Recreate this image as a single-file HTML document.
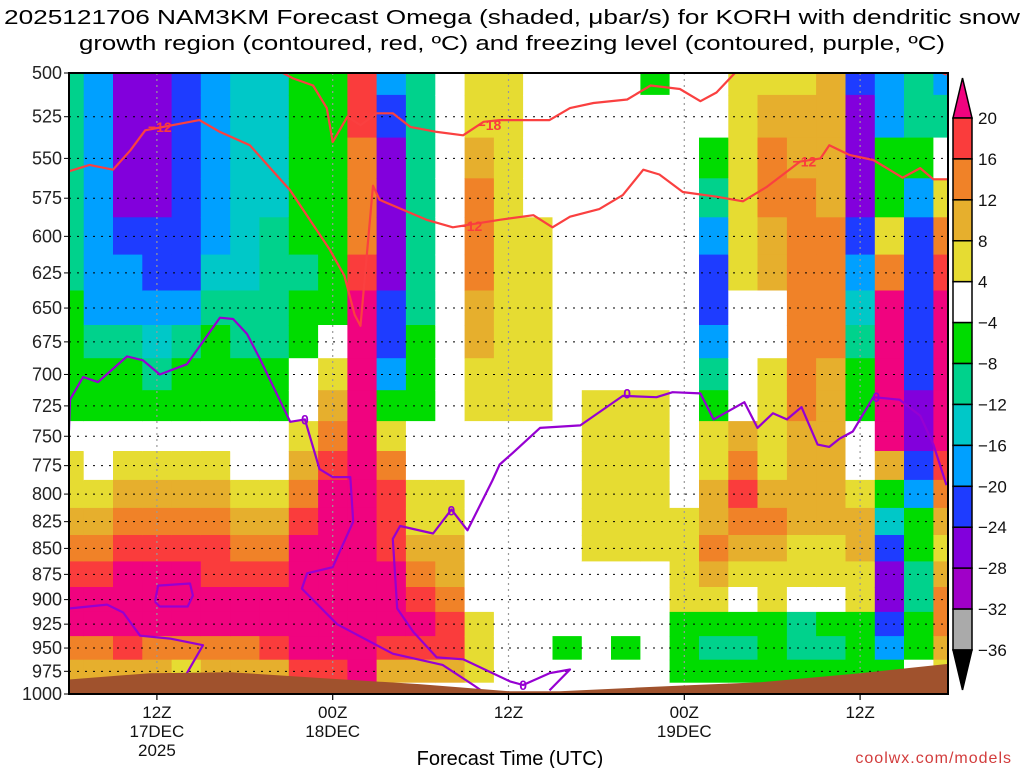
<!DOCTYPE html>
<html><head><meta charset="utf-8"><style>
html,body{margin:0;padding:0;background:#fff;}
svg{display:block;font-family:"Liberation Sans",sans-serif;}
</style></head><body>
<svg id="chart" width="1024" height="768" viewBox="0 0 1024 768" xmlns="http://www.w3.org/2000/svg">
<defs><clipPath id="plotclip"><rect x="69" y="73" width="879" height="621"/></clipPath></defs>
<text x="512" y="24" font-size="20" text-anchor="middle" textLength="1016" lengthAdjust="spacingAndGlyphs">2025121706 NAM3KM Forecast Omega (shaded, μbar/s) for KORH with dendritic snow</text>
<text x="512" y="50" font-size="20" text-anchor="middle" textLength="866" lengthAdjust="spacingAndGlyphs">growth region (contoured, red, ºC) and freezing level (contoured, purple, ºC)</text>
<g id="field" clip-path="url(#plotclip)"></g>
<g id="grid"></g>
<g id="contours" clip-path="url(#plotclip)"></g>
<g id="ground" clip-path="url(#plotclip)"></g>
<g id="labels"></g>
<rect x="69" y="73" width="879" height="621" fill="none" stroke="#000" stroke-width="2"/>
<g id="yaxis"></g>
<g id="xaxis"></g>
<g id="cbar"></g>
<text x="510" y="765" font-size="20" text-anchor="middle">Forecast Time (UTC)</text>
<text x="1012" y="763" font-size="16" text-anchor="end" fill="#d23c3c" letter-spacing="1">coolwx.com/models</text>
</svg>
<script>
const levels=[500,525,550,575,600,625,650,675,700,725,750,775,800,825,850,875,900,925,950,975,1000];
const hours=[0,2,4,6,8,10,12,14,16,18,20,22,24,26,28,30,32,34,36,38,40,42,44,46,48,50,52,54,56,58,60];
const omegaColumns=[
"TTTTTTGGGGWYYDORPPODW","LLLLLLLTGGWWYDORPPODW","UUUUBLLTGGWYDORPPPRDW","UUUUBBLCTGWYDORPPPODW",
"BBBBBBLTGGWYDORPPPOYW","LLLLLCTGGGWYDORRPPODW","CCCCCCTTGGWWYDORPPODW","CCCCTTTTGGWWYDORPPRDW",
"GGGGGTGGWWYDORPPPPPRW","GGGGGGGWYDORPPPPPPPRW","RROOORPPPPPPPPPPPPPPW","LBUUUUBBLGYORRRPPPRDW",
"TTTTTTTGGGWWYYDORPRDW","WWWWWWWWWWWWYYDDORRDW","YYDOOODDYYWWWWWWWYYYW","YYYYYYYYYYWWWWWWWWWWW",
"WWWWYYYYYYWWWWWWWWWWW","WWWWWWWWWWWWWWWWWWGWW","WWWWWWWWWYYYYYYWWWWWW","WWWWWWWWWYYYYYYWWWGWW",
"GWWWWWWWWYYYYYYWWWWWW","WWWWWWWWWWWWWYYYYGGGW","WWGTLBBLTGYYDDODYGTGW","YYYYYYWWWWDORODYWGTGW",
"YDOODDWWYYYYDODYYGGGW","YDDOOOOOOODDDDYYWTTGW","DDDDOOOODDDDDDYYWGTGW","BUUUBLCTGGWWYDDYYGGGW",
"LLGGYOPPPPPDGCBUUBLGW","TTGLBBBBBUUBLGGTTGGWW","LTWYORPPPPPRODYDOODYW"];
const cbarLabels=["20","16","12","8","4","\u22124","\u22128","\u221212","\u221216","\u221220","\u221224","\u221228","\u221232","\u221236"];
const tickLevels=[500,525,550,575,600,625,650,675,700,725,750,775,800,825,850,875,900,925,950,975,1000];
const xTickHours=[6,18,30,42,54];
const xTickLine1=["12Z","00Z","12Z","00Z","12Z"];
const xTickLine2=["17DEC","18DEC","","19DEC",""];
const xTickLine3=["2025","","","",""];
const isoM12=[[0,558],[1.4,554],[3.0,557],[4.2,545],[5.2,533],[8.9,527],[10.3,534],[12.35,542],[15.1,570],[17.8,609],[18.8,627],[19.5,655],[19.9,663],[20.75,567],[21.2,576],[24.4,589],[26.2,594],[29.4,589],[31.7,586],[33.0,594],[34.2,587],[36.2,582],[37.8,573],[39.2,557],[40.3,560],[41.9,571],[44.2,574],[46.0,577],[47.6,568],[49.9,552],[51.3,550],[51.9,542],[53.3,548],[54.9,551],[56.9,562],[58.1,556],[59.0,563],[60,563]];
const isoM18=[[13.9,497],[15.3,503],[16.66,507],[17.6,520],[18.0,540],[19.0,525],[19.9,530],[21.0,523],[22.1,523],[23.3,531],[25.1,534],[26.9,536],[28.3,528],[29.4,527],[32.8,527],[34.2,520],[35.8,517],[38.1,515],[39.7,507],[41.7,509],[43.1,516],[44.2,511],[45.8,497]];
const isoM18b=[[58.8,497],[59.9,501]];
const iso0a=[[0,745],[0.07,720],[0.96,702],[1.98,706],[3.96,686],[5.05,689],[6.2,700],[8.05,692],[10.3,657],[11.2,658],[12.15,669],[13.04,688],[15.1,738],[16.1,736],[17.1,778],[18.0,785],[19.2,785],[19.4,825],[18.0,868],[16.25,874],[15.9,889],[18.3,925],[22.1,956],[25.5,968],[27.6,990],[28.5,1000]];
const iso0b=[[59.9,792],[59.0,757],[58.1,733],[56.7,720],[54.9,718],[53.5,746],[52.6,752],[51.9,759],[51.1,757],[50.0,726],[49.0,736],[48.05,731],[47.0,743],[46.1,722],[44.0,736],[43.1,715],[41.2,714],[40.1,718],[37.8,717],[34.9,741],[32.15,743],[30.3,764],[29.4,774],[28.9,788],[27.2,833],[26.1,814],[24.85,836],[22.6,829],[22.1,841],[22.4,909],[23.5,933],[25.1,960],[26.9,962],[30.1,986],[31.0,990],[32.8,977],[34.2,973],[32.8,996]];
const iso0loop=[[5.87,902],[6.08,886],[8.26,884],[8.46,896],[8.1,907],[6.2,907],[5.87,902]];
const iso0c=[[0,909],[2.6,905],[3.7,913],[4.85,937],[6.9,940],[9.15,947],[8.05,977],[7.6,998]];
const labelText=["\u221212","\u221218","\u221212","\u221212","0","0","0","0","0"];
const labelHour=[6.2,28.7,27.4,50.2,16.1,26.1,31.0,38.1,55.1];
const labelPres=[531,530,593,552,736,815,990,715,718];
const labelRed=[1,1,1,1,0,0,0,0,0];
const groundHour=[0,5.5,11.0,17.8,23.9,30.1,33.5,38.6,42.7,47.2,54.0,60];
const groundPres=[984,977,976,983,989,997,997,993,990,987,977,967];

const palette={P:"#f0037f",R:"#fa3c3c",O:"#f08228",D:"#e6af2d",Y:"#e6dc32",W:"#ffffff",G:"#00dc00",T:"#00d28c",C:"#00c8c8",L:"#00a0ff",B:"#1e3cff",U:"#8200dc",M:"#a000c8",S:"#aaaaaa"};
const cbarColors=["#fa3c3c","#f08228","#e6af2d","#e6dc32","#ffffff","#00dc00","#00d28c","#00c8c8","#00a0ff","#1e3cff","#8200dc","#a000c8","#aaaaaa"];
const NS="http://www.w3.org/2000/svg";
const X0=69,X1=948,Y0=73,Y1=694;
function xs(h){return X0+(h-0)*(X1-X0)/60;}
function ys(p){return Y0+(Math.log(p/500))/Math.log(2)*(Y1-Y0);}
function mk(tag,attrs,parent){const e=document.createElementNS(NS,tag);for(const k in attrs)e.setAttribute(k,attrs[k]);parent.appendChild(e);return e;}

const field=document.getElementById('field');
const dh=hours[1]-hours[0];
hours.forEach((h,i)=>{
  const col=omegaColumns[i];
  levels.forEach((p,j)=>{
    const pTop=j===0?p:Math.sqrt(levels[j-1]*p);
    const pBot=j===levels.length-1?p:Math.sqrt(levels[j+1]*p);
    const y0=j===0?Y0-5:ys(pTop), y1=j===levels.length-1?Y1+5:ys(pBot);
    const xa=xs(h-dh/2), xb=xs(h+dh/2);
    const r=mk('rect',{x:xa.toFixed(1),y:y0.toFixed(1),width:(xb-xa+0.6).toFixed(1),height:(y1-y0+0.6).toFixed(1),fill:palette[col[j]]},field);
    
    
  });
});

const grid=document.getElementById('grid');
levels.forEach(p=>{
  const l=mk('line',{x1:X0,x2:X1,y1:ys(p),y2:ys(p),stroke:"#000","stroke-width":1,"stroke-dasharray":"2,6"},grid);
  
  
});
xTickHours.forEach(h=>{
  const l=mk('line',{x1:xs(h),x2:xs(h),y1:Y0,y2:Y1,stroke:"#999","stroke-width":1.2,"stroke-dasharray":"2,4"},grid);
  
  
});

const cont=document.getElementById('contours');
function line(pts,color,name){
  const d=pts.map((q,i)=>(i?'L':'M')+xs(q[0]).toFixed(1)+','+ys(q[1]).toFixed(1)).join(' ');
  const e=mk('path',{d:d,fill:"none",stroke:color,"stroke-width":2.2,"stroke-linejoin":"round"},cont);
  
  
}
line(isoM12,"#fa4040","isotherm-minus12");
line(isoM18,"#fa4040","isotherm-minus18");
line(isoM18b,"#fa4040","isotherm-minus18-right");
line(iso0a,"#9600d2","freezing-level-left");
line(iso0b,"#9600d2","freezing-level-right");
line(iso0loop,"#9600d2","freezing-level-loop");
line(iso0c,"#9600d2","freezing-level-lower");

const gnd=document.getElementById('ground');
let gd='M'+xs(groundHour[0])+','+(Y1+5);
groundHour.forEach((h,i)=>{gd+=' L'+xs(h).toFixed(1)+','+ys(groundPres[i]).toFixed(1);});
gd+=' L'+xs(60)+','+(Y1+5)+' Z';
const gp=mk('path',{d:gd,fill:"#a0522d"},gnd);



const lab=document.getElementById('labels');
labelText.forEach((t,i)=>{
  const e=mk('text',{x:xs(labelHour[i]),y:ys(labelPres[i])+5,"font-size":14,"font-weight":"bold","text-anchor":"middle",fill:labelRed[i]?"#fa3c3c":"#9600d2"},lab);
  e.textContent=t;
  
  
});

const ya=document.getElementById('yaxis');
tickLevels.forEach(p=>{
  const t=mk('text',{x:62,y:ys(p)+6,"font-size":18,"text-anchor":"end",fill:"#222"},ya);
  t.textContent=String(p);
  
  
  const k=mk('line',{x1:64,x2:69,y1:ys(p),y2:ys(p),stroke:"#000","stroke-width":1},ya);
  
  
});
const xa=document.getElementById('xaxis');
xTickHours.forEach((h,i)=>{
  const k=mk('line',{x1:xs(h),x2:xs(h),y1:Y1,y2:Y1+6,stroke:"#000","stroke-width":1.2},xa);
  
  
  [xTickLine1[i],xTickLine2[i],xTickLine3[i]].forEach((s,r)=>{
    if(!s)return;
    const t=mk('text',{x:xs(h),y:718+r*19,"font-size":17,"text-anchor":"middle",fill:"#111"},xa);
    t.textContent=s;
    
    
  });
});

const cb=document.getElementById('cbar');
const cx=953,cw=19,cTop=118,cStep=(650-118)/13;
const tri1=mk('polygon',{points:`${cx},${cTop} ${cx+cw},${cTop} ${cx+cw/2},78`,fill:"#f0037f",stroke:"#000","stroke-width":1.5},cb);


cbarColors.forEach((c,i)=>{
  const r=mk('rect',{x:cx,y:cTop+i*cStep,width:cw,height:cStep,fill:c,stroke:"#000","stroke-width":1.5},cb);
  
  
});
const tri2=mk('polygon',{points:`${cx},650 ${cx+cw},650 ${cx+cw/2},690`,fill:"#000",stroke:"#000","stroke-width":1.5},cb);


cbarLabels.forEach((s,i)=>{
  const t=mk('text',{x:978,y:cTop+i*cStep+6,"font-size":17,fill:"#111"},cb);
  t.textContent=s;
  
  
});
</script>
</body></html>
